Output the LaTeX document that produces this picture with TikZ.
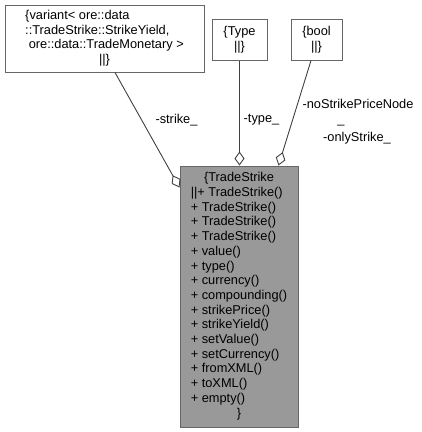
\documentclass[tikz,border=0pt]{standalone}
\usepackage{fontspec}
\setmainfont{Liberation Sans}
\usetikzlibrary{arrows.meta}
\definecolor{edgec}{HTML}{404040}
\definecolor{boxc}{HTML}{666666}
\definecolor{fillc}{HTML}{999999}
\begin{document}
\begin{tikzpicture}[x=1pt,y=-1pt,
 every node/.style={font=\fontsize{12.8}{14.7}\selectfont, inner sep=0pt, text=black},
 cls/.style={draw=boxc, line width=1pt, rectangle, fill=white},
 agg/.style={draw=edgec, line width=0.9pt, -{Diamond[open,length=14pt,width=10pt]}}]
\useasboundingbox (0,0) rectangle (422,432);
\node[cls, minimum width=199pt, minimum height=67pt] (varbox) at (104.5,38.5)
 {\begin{tabular}{@{}l@{}}\{variant< ore::data\\::TradeStrike::StrikeYield,\\\ ore::data::TradeMonetary >\\\multicolumn{1}{@{}c@{}}{\textbar\textbar\}}\end{tabular}\hspace{17pt}};
\node[cls, minimum width=55pt, minimum height=41pt, align=center] (typebox) at (239.5,39.5) {\{Type\\\textbar\textbar\}};
\node[cls, minimum width=51pt, minimum height=41pt, align=center] (boolbox) at (316.5,39.5) {\{bool\\\textbar\textbar\}};
\node[cls, fill=fillc, minimum width=118pt, minimum height=261pt] (main) at (239,296.5)
 {\begin{tabular}{@{}l@{}}\multicolumn{1}{@{}c@{}}{\{TradeStrike}\\
 \textbar\textbar+ TradeStrike()\\
 + TradeStrike()\\
 + TradeStrike()\\
 + TradeStrike()\\
 + value()\\
 + type()\\
 + currency()\\
 + compounding()\\
 + strikePrice()\\
 + strikeYield()\\
 + setValue()\\
 + setCurrency()\\
 + fromXML()\\
 + toXML()\\
 + empty()\\
 \multicolumn{1}{@{}c@{}}{\}}\end{tabular}};
\draw[agg] ([xshift=10.5pt]varbox.south) -- ([yshift=-22pt]main.north west);
\draw[agg] (typebox.south) -- (typebox.south |- main.north);
\draw[agg] ([xshift=-5.5pt]boolbox.south) -- ([xshift=-20pt]main.north east);
\node (lstrike) at (176.5,120) {-strike\_};
\node (ltype) at (261.5,120) {-type\_};
\node (lno) at (358,104) {-noStrikePriceNode};
\node[anchor=base] (lus) at (341,123) {\_};
\node (lonly) at (357,138) {-onlyStrike\_};
\end{tikzpicture}
\end{document}
